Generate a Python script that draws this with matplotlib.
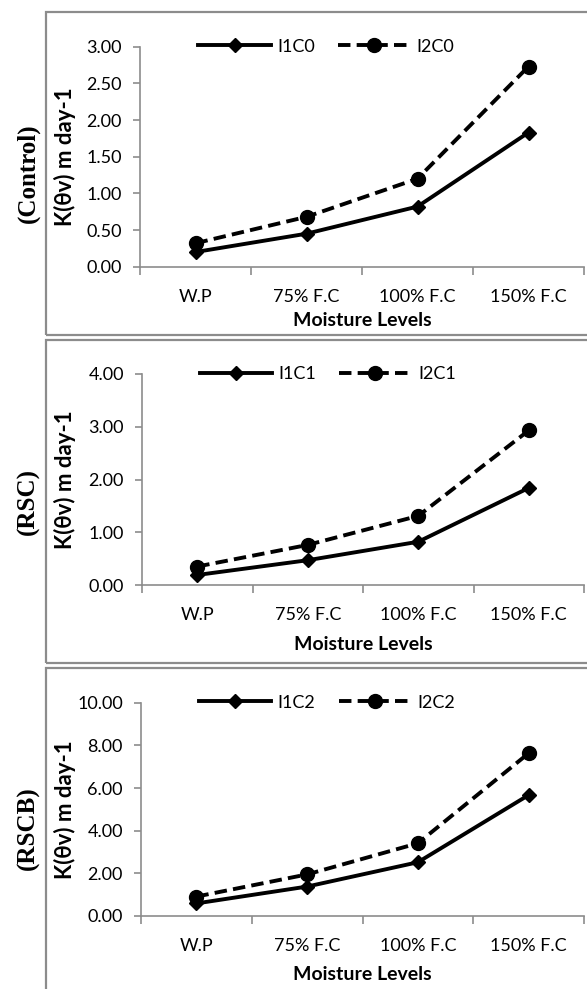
import matplotlib
matplotlib.use('Agg')
import matplotlib.pyplot as plt
from matplotlib.patches import Rectangle

levels = ['W.P', '75% F.C', '100% F.C', '150% F.C']

# panel 1 (Control)
i1c0 = [0.20, 0.45, 0.82, 1.83]
i2c0 = [0.32, 0.68, 1.20, 2.73]
# panel 2 (RSC)
i1c1 = [0.19, 0.47, 0.82, 1.84]
i2c1 = [0.35, 0.76, 1.31, 2.93]
# panel 3 (RSCB)
i1c2 = [0.59, 1.38, 2.52, 5.67]
i2c2 = [0.91, 1.95, 3.41, 7.63]

panels = [
    ('(Control)', 'I1C0', 'I2C0', i1c0, i2c0, 3.0, 0.5),
    ('(RSC)', 'I1C1', 'I2C1', i1c1, i2c1, 4.0, 1.0),
    ('(RSCB)', 'I1C2', 'I2C2', i1c2, i2c2, 10.0, 2.0),
]

W, H = 587, 989
# pixel layout: axes (left, right, top, bottom), box (top, bottom), xlabel y
axes_px = [(140, 584, 46.7, 266.7), (142, 584, 374, 585), (141, 584, 702.7, 916)]
box_px = [(12, 335), (340, 663), (668, 1000)]
xlabel_y = [320, 645, 975]

font = 'Lato'
gray = '#8c8c8c'

fig = plt.figure(figsize=(W / 100, H / 100), dpi=100)

for k, (name, l1, l2, s1, s2, ymax, ystep) in enumerate(panels):
    bt, bb = box_px[k]
    fig.add_artist(Rectangle((46 / W, 1 - bb / H), (W + 10 - 46) / W, (bb - bt) / H,
                             transform=fig.transFigure, fill=False,
                             edgecolor=gray, linewidth=1.6))

    l, r, t, b = axes_px[k]
    ax = fig.add_axes([l / W, 1 - b / H, (r - l) / W, (b - t) / H])
    x = list(range(len(levels)))
    ax.plot(x, s1, color='black', lw=2.8, marker='D', markersize=7, label=l1,
            clip_on=False)
    ax.plot(x, s2, color='black', lw=2.8, ls=(0, (3.2, 1.6)), marker='o',
            markersize=10, label=l2, clip_on=False)

    ax.set_xlim(-0.5, 3.5)
    ax.set_ylim(0, ymax)
    yt = [ystep * i for i in range(int(round(ymax / ystep)) + 1)]
    ax.set_yticks(yt)
    ax.set_yticklabels(['%.2f' % v for v in yt], fontfamily=font, fontsize=13)
    ax.set_xticks([-0.5, 0.5, 1.5, 2.5, 3.5])
    ax.set_xticklabels([])
    ax.set_xticks(x, minor=True)
    ax.set_xticklabels(levels, minor=True, fontfamily=font, fontsize=13)
    ax.tick_params(axis='x', which='major', direction='out', length=6, color=gray, width=1.2)
    ax.tick_params(axis='x', which='minor', length=0, pad=16)
    ax.tick_params(axis='y', direction='out', length=5, color=gray, width=1.2, pad=8)

    for s in ['top', 'right']:
        ax.spines[s].set_visible(False)
    for s in ['left', 'bottom']:
        ax.spines[s].set_color(gray)
        ax.spines[s].set_linewidth(1.2)

    fig.text(65 / W, 1 - (t + b) / 2 / H, 'K(θv) m day-1', rotation=90,
             ha='center', va='center', fontfamily=font, fontweight='bold',
             fontsize=16)
    fig.text((l + r) / 2 / W, 1 - xlabel_y[k] / H, 'Moisture Levels',
             ha='center', va='center', fontfamily=font, fontweight='bold',
             fontsize=14)

    ax.legend(loc='center', bbox_to_anchor=(0.42, 1.0), ncol=2, frameon=False,
              handlelength=4.0, columnspacing=1.3, handletextpad=0.35,
              prop={'family': font, 'size': 13})

    fig.text(28 / W, 1 - (bt + min(bb, 989)) / 2 / H, name, rotation=90,
             ha='center', va='center', fontfamily='Liberation Serif',
             fontweight='bold', fontsize=18)

fig.savefig('out.png', dpi=100)
